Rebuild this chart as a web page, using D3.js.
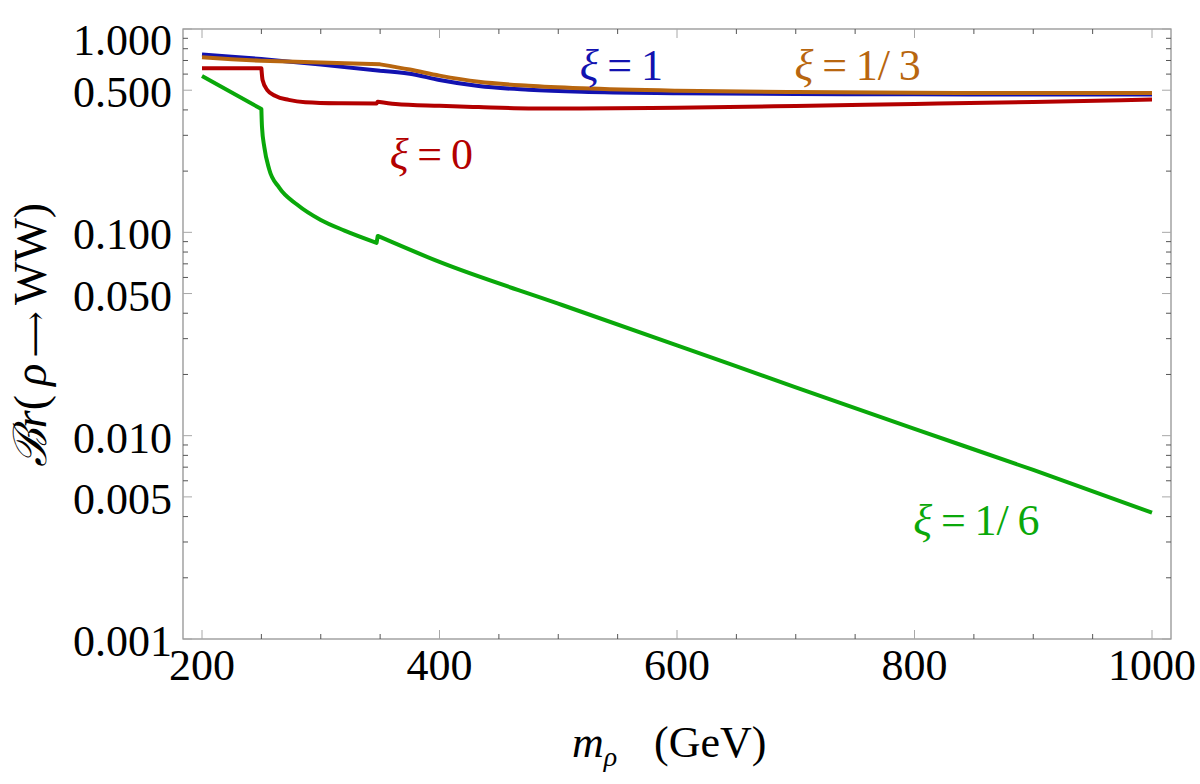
<!DOCTYPE html>
<html>
<head>
<meta charset="utf-8">
<script src="https://cdn.jsdelivr.net/npm/d3@7"></script>
<style>
  body { margin: 0; background: #fff; }
</style>
</head>
<body>
<div id="chart"></div>
<script>
// ---- data (mass in GeV, branching ratio) ----
// xi = 1 (blue)
const xi1Mass = [200, 225, 250, 300, 350, 375, 400, 433, 475, 520, 600, 700, 800, 900, 1000];
const xi1Br   = [0.75, 0.73, 0.712, 0.668, 0.624, 0.603, 0.561, 0.524, 0.503, 0.491, 0.483, 0.479, 0.477, 0.476, 0.476];
const xi1Breaks = [250, 350];

// xi = 1/3 (orange)
const xi3Mass = [200, 225, 250, 300, 350, 375, 400, 433, 475, 520, 600, 700, 800, 900, 1000];
const xi3Br   = [0.726, 0.71, 0.698, 0.684, 0.67, 0.632, 0.59, 0.55, 0.526, 0.511, 0.497, 0.49, 0.486, 0.484, 0.484];
const xi3Breaks = [250, 350];

// xi = 0 (red)
const xi0Mass = [200, 250, 251, 255, 262, 273, 287, 315, 347, 348, 363, 400, 433, 475, 518, 600, 700, 800, 900, 1000];
const xi0Br   = [0.641, 0.641, 0.561, 0.501, 0.468, 0.448, 0.436, 0.431, 0.43, 0.439, 0.428, 0.419, 0.413, 0.407, 0.406, 0.41, 0.418, 0.428, 0.438, 0.45];
const xi0Breaks = [250, 347, 348];

// xi = 1/6 (green)
const xi6Mass = [200, 250, 250.5, 252.5, 256.5, 265, 280, 300, 320, 347, 348, 400, 500, 600, 700, 800, 900, 1000];
const xi6Br   = [0.587, 0.404, 0.331, 0.262, 0.205, 0.166, 0.137, 0.115, 0.102, 0.0888, 0.096, 0.0715, 0.0446, 0.0278, 0.0173, 0.0108, 0.00678, 0.00418];
const xi6Breaks = [250, 347, 348];

const xTicksMajor = [200, 400, 600, 800, 1000];
const yTicksMajor = [0.001, 0.005, 0.01, 0.05, 0.1, 0.5, 1];
const yTickLabels = ["0.001", "0.005", "0.010", "0.050", "0.100", "0.500", "1.000"];

const labelText = ["ξ\u2009=\u20091", "ξ\u2009=\u20091/\u20093", "ξ\u2009=\u20090", "ξ\u2009=\u20091/\u20096"];
const labelMass = [518, 699, 358, 799];
const labelBr   = [0.56, 0.56, 0.205, 0.00326];

const colors = ["#1212b0", "#b8660f", "#b30000", "#0aa80a"];

// ---- layout ----
const width = 1200, height = 784;
const margin = { left: 183, right: 29, top: 29, bottom: 145 };
const serif = "'Liberation Serif', 'Times New Roman', 'DejaVu Serif', serif";

const svg = d3.select("#chart").append("svg")
  .attr("width", width).attr("height", height)
  .attr("font-family", serif);

const x = d3.scaleLinear().domain([184, 1016]).range([margin.left, width - margin.right]);
const y = d3.scaleLog().domain([0.001, 1]).range([height - margin.bottom, margin.top]);

const x0 = x.range()[0], x1 = x.range()[1];
const y0 = y.range()[0], y1 = y.range()[1];

// frame
svg.append("rect")
  .attr("x", x0).attr("y", y1)
  .attr("width", x1 - x0).attr("height", y0 - y1)
  .attr("fill", "none").attr("stroke", "#8a8a8a").attr("stroke-width", 1.2);

// ticks (inward, all four sides)
const xMinor = d3.range(200, 1001, 50).filter(d => !xTicksMajor.includes(d));
const yMinor = [];
[0.001, 0.01, 0.1].forEach(dec => {
  for (let k = 2; k <= 9; k++) if (k !== 5) yMinor.push(dec * k);
});

const ticks = svg.append("g");
function xTick(v, len, col) {
  ticks.append("line").attr("x1", x(v)).attr("x2", x(v)).attr("y1", y0).attr("y2", y0 - len)
    .attr("stroke", col).attr("stroke-width", 1);
  ticks.append("line").attr("x1", x(v)).attr("x2", x(v)).attr("y1", y1).attr("y2", y1 + len)
    .attr("stroke", col).attr("stroke-width", 1);
}
function yTick(v, len, col) {
  ticks.append("line").attr("x1", x0).attr("x2", x0 + len).attr("y1", y(v)).attr("y2", y(v))
    .attr("stroke", col).attr("stroke-width", 1);
  ticks.append("line").attr("x1", x1).attr("x2", x1 - len).attr("y1", y(v)).attr("y2", y(v))
    .attr("stroke", col).attr("stroke-width", 1);
}
xTicksMajor.forEach(v => xTick(v, 9, "#a8a8a8"));
xMinor.forEach(v => xTick(v, 5, "#555"));
yTicksMajor.forEach(v => yTick(v, 9, "#a8a8a8"));
yMinor.forEach(v => yTick(v, 5, "#555"));

// tick labels
svg.append("g").selectAll("text").data(xTicksMajor).join("text")
  .attr("x", d => x(d)).attr("y", y0 + 41)
  .attr("text-anchor", "middle").attr("font-size", 44)
  .text(d => d);

svg.append("g").selectAll("text").data(yTicksMajor).join("text")
  .attr("x", x0 - 11).attr("y", d => y(d) + (d === 1 ? 26 : 17))
  .attr("text-anchor", "end").attr("font-size", 44)
  .text((d, i) => yTickLabels[i]);

// axis titles
const xt = svg.append("text").attr("y", 757).attr("font-size", 44);
xt.append("tspan").attr("x", 572).attr("font-style", "italic").text("m");
xt.append("tspan").attr("font-style", "italic").attr("font-size", 28).attr("dy", 9).text("ρ");
xt.append("tspan").attr("x", 654).attr("dy", -9).text("(GeV)");

const yt = svg.append("text")
  .attr("transform", "translate(46,335) rotate(-90)")
  .attr("text-anchor", "middle")
  .attr("font-size", 46);
yt.append("tspan").attr("font-style", "italic").text("ℬr");
yt.append("tspan").text("(\u2009");
yt.append("tspan").attr("font-style", "italic").text("ρ");
yt.append("tspan").attr("font-size", 32).text("\u2009⟶\u2009");
yt.append("tspan").text("WW)");

// curves: split at kinks / jumps, draw each piece smooth and join them
const line = d3.line().x(d => x(d[0])).y(d => y(d[1])).curve(d3.curveMonotoneX);

function pieces(mass, br, breaks) {
  const out = [];
  let cur = [];
  mass.forEach((m, i) => {
    cur.push([m, br[i]]);
    if (breaks.includes(m) && cur.length > 1) {
      out.push(cur);
      cur = [[m, br[i]]];
    }
  });
  if (cur.length > 1) out.push(cur);
  return out;
}

function pathFor(mass, br, breaks) {
  return pieces(mass, br, breaks)
    .map((p, i) => i === 0 ? line(p) : "L" + line(p).slice(1))
    .join("");
}

const series = [
  [xi0Mass, xi0Br, xi0Breaks, colors[2]],
  [xi6Mass, xi6Br, xi6Breaks, colors[3]],
  [xi1Mass, xi1Br, xi1Breaks, colors[0]],
  [xi3Mass, xi3Br, xi3Breaks, colors[1]]
];

series.forEach(s => {
  svg.append("path")
    .attr("d", pathFor(s[0], s[1], s[2]))
    .attr("fill", "none")
    .attr("stroke", s[3])
    .attr("stroke-width", 4)
    .attr("stroke-linejoin", "round");
});

// curve labels
labelText.forEach((t, i) => {
  const g = svg.append("text")
    .attr("x", x(labelMass[i])).attr("y", y(labelBr[i]))
    .attr("font-size", 44).attr("fill", colors[i]);
  g.append("tspan").attr("font-style", "italic").text(t.slice(0, 1));
  g.append("tspan").text(t.slice(1));
});
</script>
</body>
</html>
